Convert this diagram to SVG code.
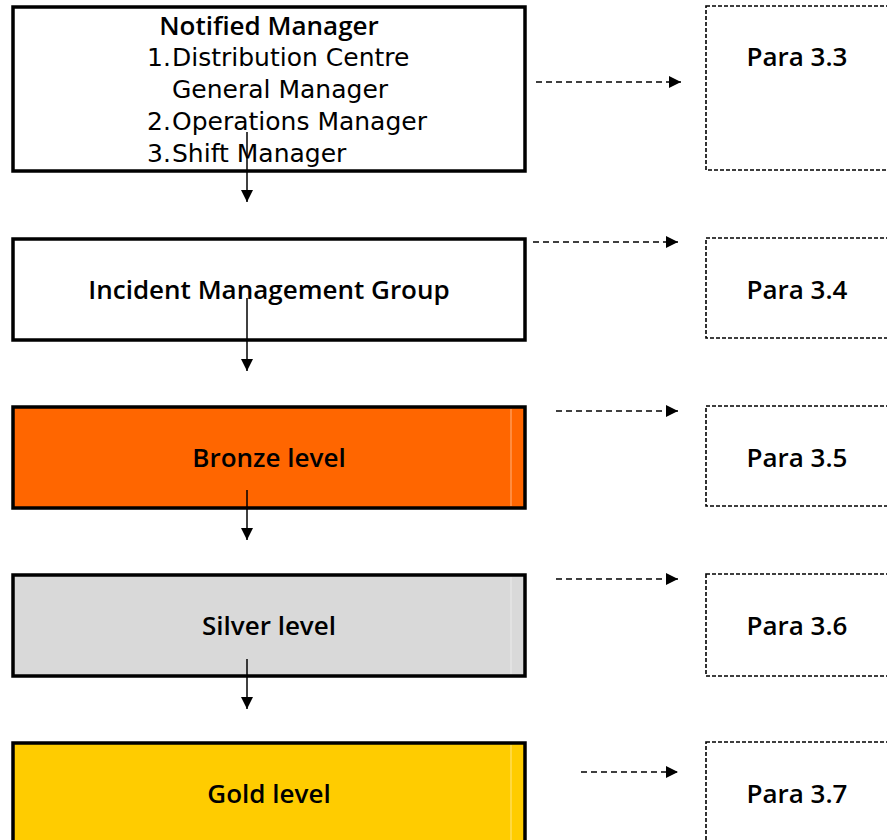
<svg xmlns="http://www.w3.org/2000/svg" width="887" height="840" viewBox="0 0 887 840">
<style>
.box{stroke:#000;stroke-width:3.5}
.ref{fill:#fff;stroke:#000;stroke-width:1.6;stroke-dasharray:4 2}
.t{font-family:"DejaVu Sans","Open Sans",sans-serif;font-size:25px;fill:#000}
.b{font-family:"Open Sans","DejaVu Sans",sans-serif;font-weight:600;font-size:26px;text-anchor:middle}
.inner{stroke:#fff;stroke-opacity:0.5;stroke-width:1}
.dash{stroke:#000;stroke-width:1.5;stroke-dasharray:6 4;fill:none}
.solid{stroke:#000;stroke-width:1.5;fill:none}
</style>
<defs>
<marker id="ah" viewBox="0 0 12 12" refX="12" refY="6" markerWidth="12" markerHeight="12" markerUnits="userSpaceOnUse" orient="auto">
<path d="M0,0 L12,6 L0,12 z" fill="#000"/>
</marker>
</defs>
<rect width="887" height="840" fill="#fff"/>
<g id="n1">
<rect class="box" x="13" y="7" width="512" height="164" fill="#fff"/>
<text class="t b" x="269" y="35">Notified Manager</text>
<text class="t" y="66"><tspan x="147">1.</tspan><tspan x="172">Distribution Centre</tspan></text>
<text class="t" x="172" y="98">General Manager</text>
<text class="t" y="130"><tspan x="147">2.</tspan><tspan x="172">Operations Manager</tspan></text>
<text class="t" y="162"><tspan x="147">3.</tspan><tspan x="172">Shift Manager</tspan></text>
</g>
<g id="n2">
<rect class="box" x="13" y="239" width="512" height="101" fill="#fff"/>
<text class="t b" x="269" y="299">Incident Management Group</text>
</g>
<g id="n3">
<rect class="box" x="13" y="407" width="512" height="101" fill="#FF6600"/>
<line class="inner" x1="511" y1="409" x2="511" y2="506"/>
<text class="t b" x="269" y="467">Bronze level</text>
</g>
<g id="n4">
<rect class="box" x="13" y="575" width="512" height="101" fill="#D9D9D9"/>
<line class="inner" x1="511" y1="577" x2="511" y2="674"/>
<text class="t b" x="269" y="635">Silver level</text>
</g>
<g id="n5">
<rect class="box" x="13" y="743" width="512" height="110" fill="#FFCC00"/>
<line class="inner" x1="511" y1="745" x2="511" y2="840"/>
<text class="t b" x="269" y="803">Gold level</text>
</g>
<g id="r1">
<rect class="ref" x="706" y="6" width="200" height="164"/>
<text class="t b" x="797" y="66">Para 3.3</text>
</g>
<g id="r2">
<rect class="ref" x="706" y="238" width="200" height="100"/>
<text class="t b" x="797" y="299">Para 3.4</text>
</g>
<g id="r3">
<rect class="ref" x="706" y="406" width="200" height="100"/>
<text class="t b" x="797" y="467">Para 3.5</text>
</g>
<g id="r4">
<rect class="ref" x="706" y="574" width="200" height="102"/>
<text class="t b" x="797" y="635">Para 3.6</text>
</g>
<g id="r5">
<rect class="ref" x="706" y="742" width="200" height="110"/>
<text class="t b" x="797" y="803">Para 3.7</text>
</g>
<g id="connectors">
<line class="solid" x1="247" y1="132" x2="247" y2="202" marker-end="url(#ah)"/>
<line class="solid" x1="247" y1="298" x2="247" y2="371" marker-end="url(#ah)"/>
<line class="solid" x1="247" y1="490" x2="247" y2="540" marker-end="url(#ah)"/>
<line class="solid" x1="247" y1="659" x2="247" y2="709" marker-end="url(#ah)"/>
<line class="dash" x1="536" y1="82" x2="681" y2="82" marker-end="url(#ah)"/>
<line class="dash" x1="533" y1="242" x2="678" y2="242" marker-end="url(#ah)"/>
<line class="dash" x1="556" y1="411" x2="678" y2="411" marker-end="url(#ah)"/>
<line class="dash" x1="556" y1="579" x2="678" y2="579" marker-end="url(#ah)"/>
<line class="dash" x1="581" y1="772" x2="678" y2="772" marker-end="url(#ah)"/>
</g>
</svg>
